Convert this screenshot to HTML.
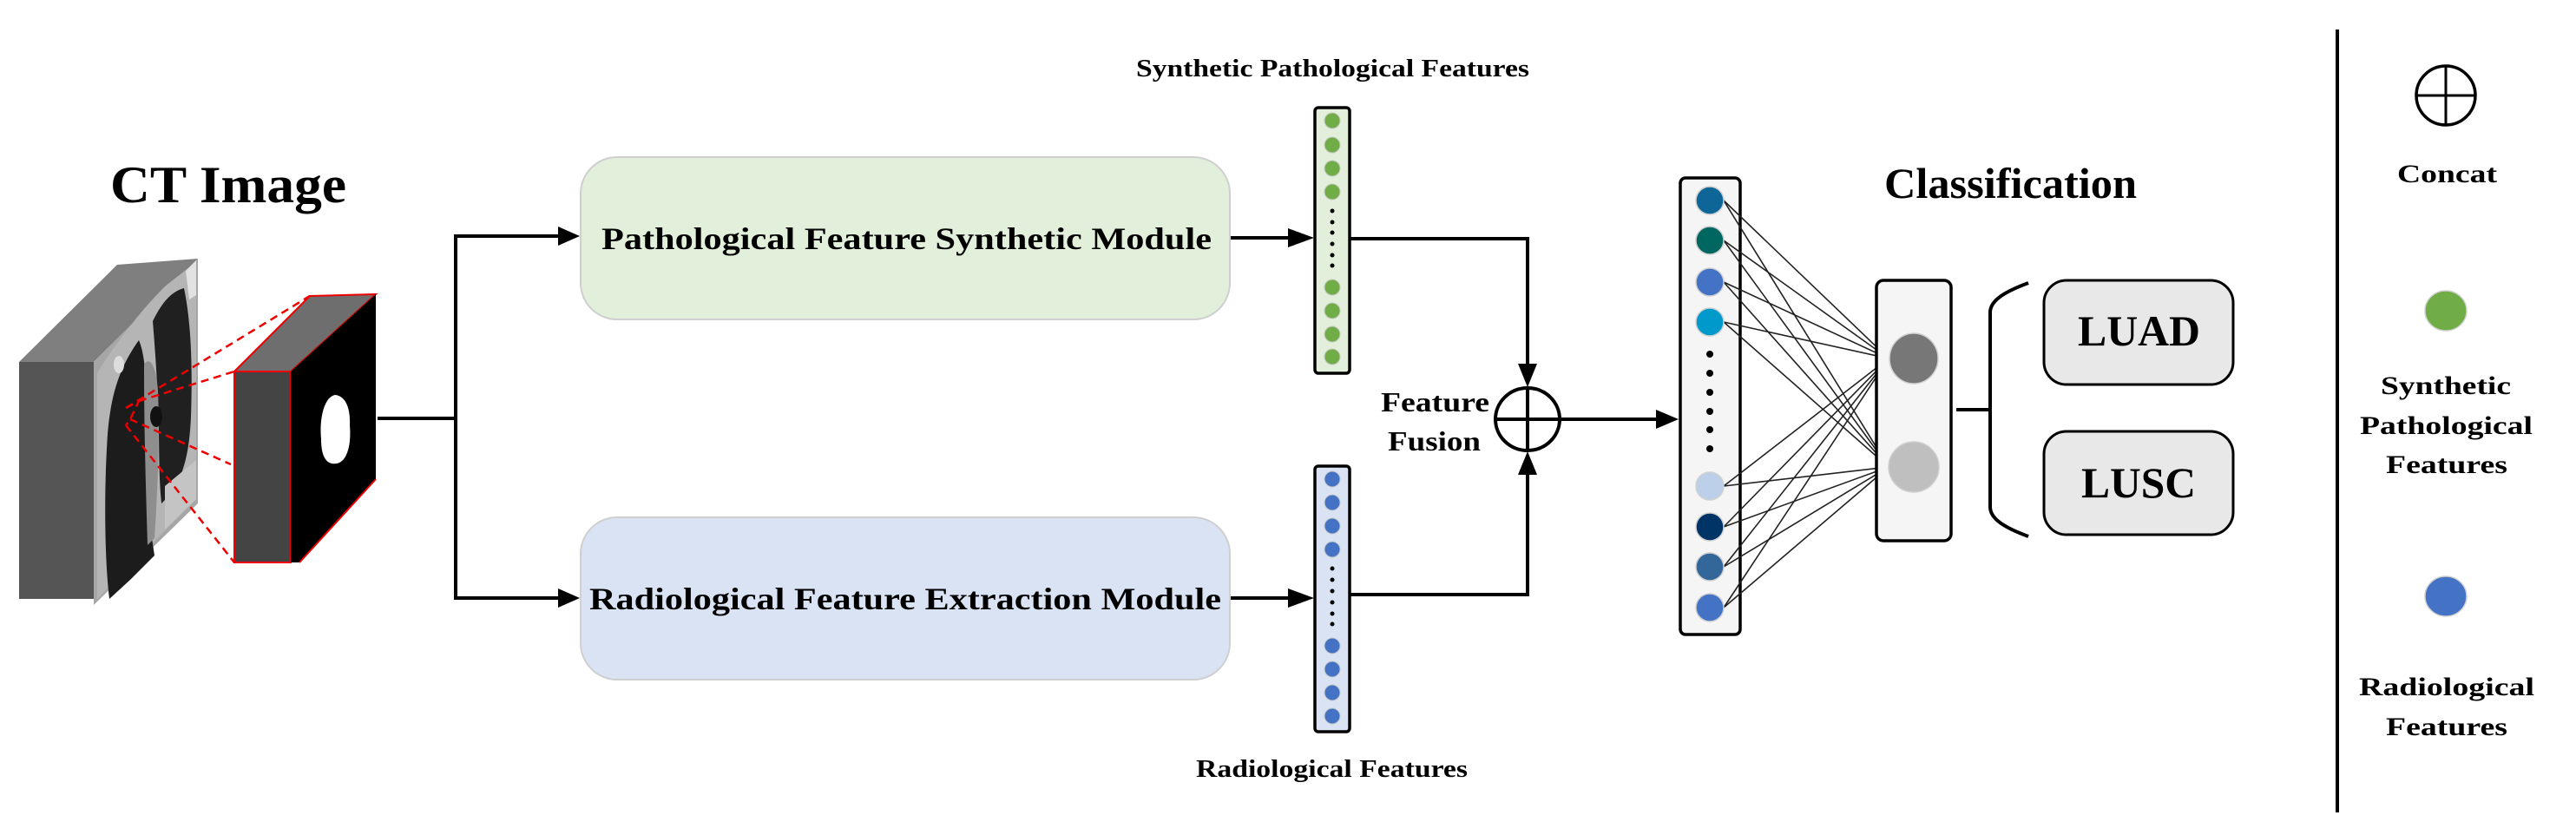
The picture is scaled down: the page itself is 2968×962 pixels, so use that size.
<!DOCTYPE html>
<html><head><meta charset="utf-8"><style>
html,body{margin:0;padding:0;background:#fff;width:2968px;height:962px;overflow:hidden}
svg{display:block}
text{font-family:"Liberation Serif",serif;font-weight:bold;fill:#000}
</style></head><body>
<svg width="2968" height="962" viewBox="0 0 2968 962" xmlns="http://www.w3.org/2000/svg">

<!-- CT Image title -->
<text x="127" y="233" font-size="60" textLength="272" lengthAdjust="spacingAndGlyphs">CT Image</text>

<!-- CT volume -->
<polygon points="22,417 135,305 228,298 108,417" fill="#7f7f7f"/>
<rect x="22" y="417" width="86" height="273" fill="#555"/>
<polygon points="108,417 228,298 228,580 108,697" fill="#a6a6a6"/>
<!-- body rim -->
<path d="M112,430 C130,400 160,360 190,330 C205,318 218,308 226,302 L226,575 L112,690 Z" fill="#b5b5b5"/>
<!-- lungs -->
<path d="M124,500 C128,450 140,420 160,392 C168,410 170,450 168,500 C166,560 172,600 178,640 L150,668 L126,690 C120,640 120,560 124,500 Z" fill="#1c1c1c"/>
<path d="M176,370 C188,345 200,335 212,332 C220,370 222,420 220,480 C218,530 208,560 186,580 C182,540 184,500 182,460 C180,420 178,395 176,370 Z" fill="#202020"/>
<!-- mediastinum -->
<path d="M166,420 C172,410 180,420 182,450 C184,500 182,560 178,620 L170,628 C168,560 166,500 166,420 Z" fill="#8e8e8e"/>
<ellipse cx="180" cy="480" rx="7" ry="12" fill="#111"/>
<polygon points="214,312 226,300 226,340 218,345" fill="#e2e2e2"/>
<ellipse cx="137" cy="420" rx="6" ry="10" fill="#ddd"/>
<path d="M190,560 L226,530 L226,575 L190,610 Z" fill="#c4c4c4"/>

<!-- red dashed lines -->
<g stroke="#e00" stroke-width="2.5" stroke-dasharray="9,6" fill="none">
<line x1="145" y1="470" x2="357" y2="341"/>
<line x1="160" y1="462" x2="270" y2="428"/>
<line x1="150" y1="483" x2="266" y2="535"/>
<line x1="145" y1="490" x2="270" y2="648"/>
<polyline points="145,470 160,462 150,483 145,490"/>
</g>

<!-- mask cuboid -->
<polygon points="270,428 357,341 433,339 335,428" fill="#6e6e6e" stroke="#e00" stroke-width="2"/>
<rect x="270" y="428" width="65" height="220" fill="#444" stroke="#e00" stroke-width="2"/>
<polygon points="335,428 433,339 433,552 345,648 335,648" fill="#000"/>
<line x1="433" y1="552" x2="345" y2="648" stroke="#e00" stroke-width="2"/>
<path d="M386,455 C398,456 404,470 403,490 C405,512 400,532 388,534 C376,536 370,526 370,506 C368,486 372,458 386,455 Z" fill="#fff"/>

<!-- branching connectors -->
<g stroke="#000" stroke-width="4" fill="none">
<line x1="435" y1="482" x2="525" y2="482"/>
<line x1="525" y1="270" x2="525" y2="691"/>
<line x1="523" y1="272" x2="645" y2="272"/>
<line x1="523" y1="689" x2="645" y2="689"/>
</g>
<polygon points="643,261 668,272 643,283" fill="#000"/>
<polygon points="643,678 668,689 643,700" fill="#000"/>

<!-- module boxes -->
<rect x="669" y="181" width="748" height="187" rx="42" fill="#e2efda" stroke="#cfcfcf" stroke-width="2"/>
<rect x="669" y="596" width="748" height="187" rx="42" fill="#dae3f3" stroke="#cfcfcf" stroke-width="2"/>
<text x="693" y="287" font-size="36" textLength="703" lengthAdjust="spacingAndGlyphs">Pathological Feature Synthetic Module</text>
<text x="679" y="702" font-size="36" textLength="728" lengthAdjust="spacingAndGlyphs">Radiological Feature Extraction Module</text>

<!-- arrows box -> vectors -->
<g stroke="#000" stroke-width="4" fill="none">
<line x1="1418" y1="274" x2="1490" y2="274"/>
<line x1="1418" y1="689" x2="1490" y2="689"/>
</g>
<polygon points="1484,263 1514,274 1484,285" fill="#000"/>
<polygon points="1484,678 1514,689 1484,700" fill="#000"/>

<!-- labels above/below vectors -->
<text x="1309" y="88" font-size="28" textLength="453" lengthAdjust="spacingAndGlyphs">Synthetic Pathological Features</text>
<text x="1378" y="895" font-size="28" textLength="313" lengthAdjust="spacingAndGlyphs">Radiological Features</text>

<!-- green vector -->
<rect x="1515" y="124" width="40" height="306" rx="4" fill="#e2efda" stroke="#000" stroke-width="3.5"/>
<g fill="#70ad47" stroke="#c9c9c9" stroke-width="1">
<ellipse cx="1535" cy="139" rx="9" ry="9"/><ellipse cx="1535" cy="167" rx="9" ry="9"/>
<ellipse cx="1535" cy="194" rx="9" ry="9"/><ellipse cx="1535" cy="221" rx="9" ry="9"/>
<ellipse cx="1535" cy="331" rx="9" ry="9"/><ellipse cx="1535" cy="358" rx="9" ry="9"/>
<ellipse cx="1535" cy="385" rx="9" ry="9"/><ellipse cx="1535" cy="411" rx="9" ry="9"/>
</g>
<g fill="#000">
<circle cx="1535" cy="243" r="2.5"/><circle cx="1535" cy="256" r="2.5"/><circle cx="1535" cy="268" r="2.5"/>
<circle cx="1535" cy="281" r="2.5"/><circle cx="1535" cy="294" r="2.5"/><circle cx="1535" cy="306" r="2.5"/>
</g>

<!-- blue vector -->
<rect x="1515" y="537" width="40" height="306" rx="4" fill="#dae3f3" stroke="#000" stroke-width="3.5"/>
<g fill="#4472c4" stroke="#c9c9c9" stroke-width="1">
<ellipse cx="1535" cy="552" rx="9" ry="9"/><ellipse cx="1535" cy="579" rx="9" ry="9"/>
<ellipse cx="1535" cy="606" rx="9" ry="9"/><ellipse cx="1535" cy="633" rx="9" ry="9"/>
<ellipse cx="1535" cy="744" rx="9" ry="9"/><ellipse cx="1535" cy="771" rx="9" ry="9"/>
<ellipse cx="1535" cy="798" rx="9" ry="9"/><ellipse cx="1535" cy="825" rx="9" ry="9"/>
</g>
<g fill="#000">
<circle cx="1535" cy="655" r="2.5"/><circle cx="1535" cy="668" r="2.5"/><circle cx="1535" cy="681" r="2.5"/>
<circle cx="1535" cy="694" r="2.5"/><circle cx="1535" cy="707" r="2.5"/><circle cx="1535" cy="719" r="2.5"/>
</g>

<!-- fusion connectors -->
<g stroke="#000" stroke-width="4" fill="none">
<polyline points="1556,275 1760,275 1760,425"/>
<polyline points="1556,685 1760,685 1760,540"/>
<line x1="1797" y1="483" x2="1915" y2="483"/>
</g>
<polygon points="1749,419 1771,419 1760,446" fill="#000"/>
<polygon points="1749,547 1771,547 1760,520" fill="#000"/>
<polygon points="1908,472 1934,483 1908,494" fill="#000"/>
<ellipse cx="1760" cy="483" rx="37" ry="36" fill="none" stroke="#000" stroke-width="4"/>
<line x1="1723" y1="483" x2="1797" y2="483" stroke="#000" stroke-width="4"/>
<line x1="1760" y1="447" x2="1760" y2="519" stroke="#000" stroke-width="4"/>
<text x="1591" y="474" font-size="32" textLength="125" lengthAdjust="spacingAndGlyphs">Feature</text>
<text x="1599" y="519" font-size="32" textLength="107" lengthAdjust="spacingAndGlyphs">Fusion</text>

<!-- concat vector -->
<rect x="1936" y="205" width="69" height="526" rx="6" fill="#f5f5f5" stroke="#000" stroke-width="3.5"/>
<g stroke="#222" stroke-width="1.6">
<line x1="1986" y1="231" x2="2176" y2="413"/><line x1="1986" y1="231" x2="2176" y2="538"/>
<line x1="1986" y1="277" x2="2176" y2="413"/><line x1="1986" y1="277" x2="2176" y2="538"/>
<line x1="1986" y1="325" x2="2176" y2="413"/><line x1="1986" y1="325" x2="2176" y2="538"/>
<line x1="1986" y1="371" x2="2176" y2="413"/><line x1="1986" y1="371" x2="2176" y2="538"/>
<line x1="1986" y1="560" x2="2176" y2="413"/><line x1="1986" y1="560" x2="2176" y2="538"/>
<line x1="1986" y1="607" x2="2176" y2="413"/><line x1="1986" y1="607" x2="2176" y2="538"/>
<line x1="1986" y1="653" x2="2176" y2="413"/><line x1="1986" y1="653" x2="2176" y2="538"/>
<line x1="1986" y1="700" x2="2176" y2="413"/><line x1="1986" y1="700" x2="2176" y2="538"/>
</g>
<g stroke="#d0d0d0" stroke-width="1.5">
<circle cx="1970" cy="231" r="16" fill="#0e6597"/>
<circle cx="1970" cy="277" r="16" fill="#006660"/>
<circle cx="1970" cy="325" r="16" fill="#4472c4"/>
<circle cx="1970" cy="371" r="16" fill="#0099cc"/>
<circle cx="1970" cy="560" r="16" fill="#bcd0ea"/>
<circle cx="1970" cy="607" r="16" fill="#003366"/>
<circle cx="1970" cy="653" r="16" fill="#336699"/>
<circle cx="1970" cy="700" r="16" fill="#4472c4"/>
</g>
<g fill="#000">
<circle cx="1970" cy="408" r="4"/><circle cx="1970" cy="430" r="4"/><circle cx="1970" cy="452" r="4"/>
<circle cx="1970" cy="474" r="4"/><circle cx="1970" cy="495" r="4"/><circle cx="1970" cy="517" r="4"/>
</g>

<!-- classification box -->
<rect x="2162" y="323" width="86" height="300" rx="8" fill="#f5f5f5" stroke="#000" stroke-width="3.5"/>
<g stroke="#d0d0d0" stroke-width="1.5">
<ellipse cx="2205" cy="413" rx="28" ry="29" fill="#777"/>
<ellipse cx="2205" cy="538" rx="29" ry="29" fill="#bfbfbf"/>
</g>
<text x="2171" y="228" font-size="50" textLength="291" lengthAdjust="spacingAndGlyphs">Classification</text>

<!-- bracket -->
<g stroke="#000" stroke-width="4" fill="none">
<line x1="2254" y1="472" x2="2293" y2="472"/>
<path d="M2337,326 C2310,336 2293,346 2293,360 L2293,584 C2293,598 2310,608 2337,618"/>
</g>

<!-- outputs -->
<rect x="2355" y="323" width="218" height="120" rx="26" fill="#e8e8e8" stroke="#000" stroke-width="3"/>
<rect x="2355" y="497" width="218" height="119" rx="26" fill="#e8e8e8" stroke="#000" stroke-width="3"/>
<text x="2394" y="398" font-size="50" textLength="141" lengthAdjust="spacingAndGlyphs">LUAD</text>
<text x="2398" y="573" font-size="50" textLength="132" lengthAdjust="spacingAndGlyphs">LUSC</text>

<!-- legend -->
<line x1="2693" y1="34" x2="2693" y2="936" stroke="#000" stroke-width="4"/>
<ellipse cx="2818" cy="110" rx="34" ry="34" fill="none" stroke="#000" stroke-width="3.5"/>
<line x1="2784" y1="110" x2="2852" y2="110" stroke="#000" stroke-width="3"/>
<line x1="2818" y1="76" x2="2818" y2="144" stroke="#000" stroke-width="3"/>
<text x="2762" y="210" font-size="30" textLength="115" lengthAdjust="spacingAndGlyphs">Concat</text>
<ellipse cx="2818" cy="358" rx="24" ry="23" fill="#70ad47" stroke="#d0d0d0" stroke-width="1.5"/>
<text x="2743" y="454" font-size="30" textLength="150" lengthAdjust="spacingAndGlyphs">Synthetic</text>
<text x="2719" y="500" font-size="30" textLength="199" lengthAdjust="spacingAndGlyphs">Pathological</text>
<text x="2749" y="545" font-size="30" textLength="140" lengthAdjust="spacingAndGlyphs">Features</text>
<ellipse cx="2818" cy="687" rx="24" ry="23" fill="#4472c4" stroke="#d0d0d0" stroke-width="1.5"/>
<text x="2718" y="801" font-size="30" textLength="202" lengthAdjust="spacingAndGlyphs">Radiological</text>
<text x="2749" y="847" font-size="30" textLength="140" lengthAdjust="spacingAndGlyphs">Features</text>
</svg>
</body></html>
